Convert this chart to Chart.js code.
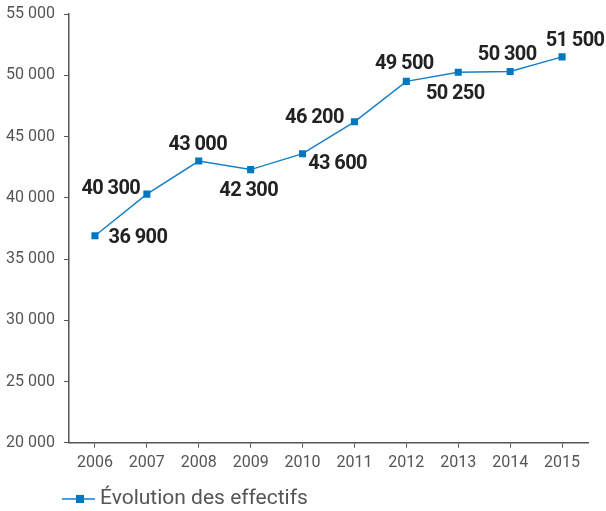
<!DOCTYPE html>
<html>
<head>
<meta charset="utf-8">
<script src="https://cdn.jsdelivr.net/npm/chart.js@4/dist/chart.umd.min.js"></script>
<style>
    html, body { margin: 0; padding: 0; background: #fff; }
    #wrap { width: 606px; height: 511px; }
</style>
</head>
<body>
<div id="wrap"><canvas id="effectifsChart" width="606" height="511"></canvas></div>
<script>
// Effectifs par année

const years = ['2006', '2007', '2008', '2009', '2010', '2011', '2012', '2013', '2014', '2015'];
const effectifs = [36900, 40300, 43000, 42300, 43600, 46200, 49500, 50250, 50300, 51500];
const yTicks = [20000, 25000, 30000, 35000, 40000, 45000, 50000, 55000];
const seriesLabel = 'Évolution des effectifs';

// where each value label sits relative to its point (px)
const labelOffsets = [
    [43, 2], [-36, -5], [-1, -16], [-2, 21], [35, 10],
    [-40, -4], [-2, -17], [-3, 22], [-3, -17], [13, -16]
];

const lineColor = '#1580c8';
const markerColor = '#0077c0';

function formatNumber(v) {
    return String(v).replace(/\B(?=(\d{3})+(?!\d))/g, ' ');
}

const valueLabels = {
    id: 'valueLabels',
    afterDatasetsDraw(chart) {
        const ctx = chart.ctx;
        const meta = chart.getDatasetMeta(0);
        ctx.save();
        ctx.font = 'bold 20px Roboto';
        ctx.letterSpacing = '-0.6px';
        ctx.fillStyle = '#222';
        ctx.textAlign = 'center';
        ctx.textBaseline = 'middle';
        meta.data.forEach(function(pt, i) {
            const off = labelOffsets[i];
            ctx.fillText(formatNumber(effectifs[i]), pt.x + off[0], pt.y + off[1]);
        });
        ctx.restore();
    }
};

const bottomLegend = {
    id: 'bottomLegend',
    afterDraw(chart) {
        const ctx = chart.ctx;
        const x = chart.chartArea.left - 7;
        const y = 499;
        ctx.save();
        ctx.strokeStyle = '#4aa0dc';
        ctx.lineWidth = 2;
        ctx.beginPath();
        ctx.moveTo(x, y);
        ctx.lineTo(x + 33, y);
        ctx.stroke();
        ctx.fillStyle = markerColor;
        ctx.fillRect(x + 14, y - 4, 8, 8);
        ctx.font = '21px Roboto';
        ctx.fillStyle = '#555';
        ctx.textBaseline = 'middle';
        ctx.fillText(seriesLabel, x + 38, y);
        ctx.restore();
    }
};

const ctx = document.getElementById('effectifsChart').getContext('2d');

new Chart(ctx, {
    type: 'line',
    data: {
        labels: years,
        datasets: [{
            label: seriesLabel,
            data: effectifs,
            borderColor: lineColor,
            backgroundColor: markerColor,
            borderWidth: 1.5,
            pointStyle: 'rect',
            pointRadius: 5,
            pointBackgroundColor: markerColor,
            pointBorderColor: markerColor,
            pointBorderWidth: 0,
            tension: 0,
            fill: false
        }]
    },
    options: {
        responsive: false,
        animation: false,
        layout: { padding: { top: 0, right: 18, bottom: 32, left: 0 } },
        plugins: {
            legend: { display: false },
            tooltip: { enabled: false }
        },
        scales: {
            x: {
                offset: true,
                grid: {
                    display: true,
                    drawOnChartArea: false,
                    drawTicks: true,
                    tickLength: 5,
                    color: '#555',
                    offset: false
                },
                border: { color: '#555', width: 1.5 },
                ticks: {
                    color: '#555',
                    font: { family: 'Roboto', size: 16 },
                    padding: 6,
                    maxRotation: 0
                }
            },
            y: {
                min: 20000,
                max: 55000,
                afterBuildTicks: function(axis) {
                    axis.ticks = yTicks.map(function(v) { return { value: v }; });
                },
                afterFit: function(axis) {
                    axis.width = 69;
                    axis.paddingTop = 14;
                },
                grid: {
                    display: true,
                    drawOnChartArea: false,
                    drawTicks: true,
                    tickLength: 5,
                    color: '#555'
                },
                border: { color: '#555', width: 1.5 },
                ticks: {
                    color: '#555',
                    font: { family: 'Roboto', size: 16 },
                    padding: 9,
                    callback: function(v) { return formatNumber(v); }
                }
            }
        }
    },
    plugins: [valueLabels, bottomLegend]
});
</script>
</body>
</html>
